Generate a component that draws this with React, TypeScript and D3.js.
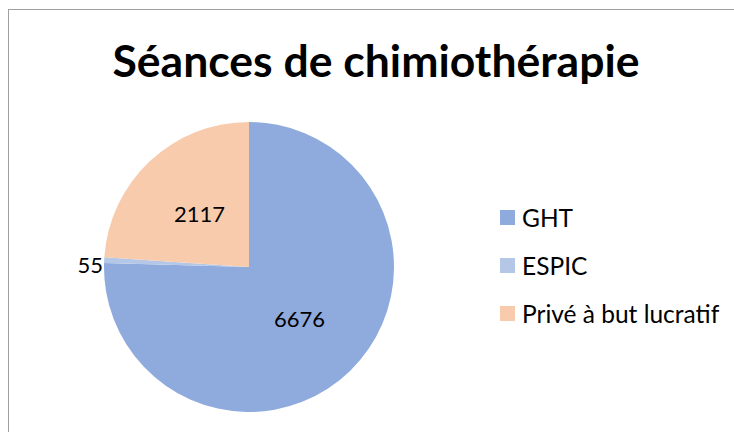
import React from "react";
import * as d3 from "d3";

const categories = ["GHT", "ESPIC", "Privé à but lucratif"];
const values = [6676, 55, 2117];
const colors = ["#8FAADC", "#B4C7E7", "#F8CBAD"];
const title = "Séances de chimiothérapie";

export default function App() {
  const W = 734, H = 432;
  const cx = 249, cy = 267, r = 145;
  const pie = d3.pie<number>().sort(null).value((d) => d)(values);
  const arc = d3.arc<d3.PieArcDatum<number>>().innerRadius(0).outerRadius(r);
  const labelArc = d3.arc<d3.PieArcDatum<number>>().innerRadius(r * 0.5).outerRadius(r * 0.5);
  const font = "Lato, 'Open Sans', sans-serif";
  return (
    <svg width={W} height={H} style={{ position: "absolute", left: 0, top: 0 }}>
      <rect x={8.5} y={9.5} width={W} height={H} fill="#fff" stroke="#A0A0A0" strokeWidth={1} />
      <text x={376} y={77} textAnchor="middle" fontFamily={font} fontWeight={700} fontSize={44.5} fill="#000">
        {title}
      </text>
      <g transform={`translate(${cx},${cy})`}>
        {pie.map((p, i) => (
          <path key={i} d={arc(p) || ""} fill={colors[i]} />
        ))}
        {pie.map((p, i) => {
          if (i === 1) {
            const a = (p.startAngle + p.endAngle) / 2;
            const y = -Math.cos(a) * r;
            return (
              <text key={i} x={-r - 1} y={y + 13} textAnchor="end" fontFamily={font} fontSize={22} fill="#000">
                {values[i]}
              </text>
            );
          }
          const [x, y] = labelArc.centroid(p);
          return (
            <text key={i} x={x} y={y + 8} textAnchor="middle" fontFamily={font} fontSize={22} fill="#000">
              {values[i]}
            </text>
          );
        })}
      </g>
      {categories.map((c, i) => (
        <g key={c} transform={`translate(500,${217.5 + i * 48})`}>
          <rect x={0} y={-7.5} width={15} height={15} fill={colors[i]} />
          <text x={22} y={9} fontFamily={font} fontSize={24.5} fill="#000">
            {c}
          </text>
        </g>
      ))}
    </svg>
  );
}
